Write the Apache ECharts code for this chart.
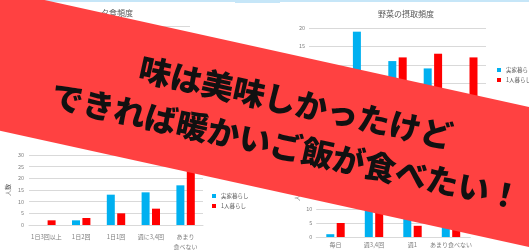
<!DOCTYPE html>
<html><head><meta charset="utf-8">
<script src="https://cdn.jsdelivr.net/npm/echarts@6/dist/echarts.min.js"></script>
<style>html,body{margin:0;padding:0;background:#fff;overflow:hidden}#c{width:529px;height:252px}</style>
</head><body><div id="c"></div>
<script>
// ---- data ----
const seriesNames = ['実家暮らし', '1人暮らし'];

const tlTitle = '夕食頻度';
const tlCategories = ['毎日', '週3,4回', '週1', 'あまり食べない'];
const tlHome = [15, 8, 4, 3];
const tlAlone = [6, 5, 10, 9];

const trTitle = '野菜の摂取頻度';
const trCategories = ['1日3回以上', '1日2回', '1日1回', '週に3,4回', 'あまり食べない'];
const trHome = [2, 19, 11, 9, 1];
const trAlone = [1, 5, 12, 13, 12];

const blCategories = ['1日3回以上', '1日2回', '1日1回', '週に3,4回', 'あまり\n食べない'];
const blHome = [0, 2, 13, 14, 17];
const blAlone = [2, 3, 5, 7, 24];

const brCategories = ['毎日', '週3,4回', '週1', 'あまり食べない'];
const brHome = [1, 15, 8, 6];
const brAlone = [5, 10, 4, 3];

const yAxisName = '人数';
const bannerLines = ['味は美味しかったけど', 'できれば暖かいご飯が食べたい！'];

// ---- chart ----
const BLUE = '#00b0f0', RED = '#ff0000', GRID = '#d9d9d9', TXT = '#7f7f7f';
const FONT = '"Noto Sans CJK JP", "Noto Sans", sans-serif';

function xAx(gi, cats, margin) {
  return {
    type: 'category', gridIndex: gi, data: cats,
    axisLine: { lineStyle: { color: GRID } }, axisTick: { show: false },
    axisLabel: { interval: 0, fontSize: 6, color: TXT, margin: margin, lineHeight: 10, fontFamily: FONT }
  };
}
function yAx(gi, max, gap, margin) {
  return {
    type: 'value', gridIndex: gi, min: 0, max: max, interval: 5,
    name: yAxisName, nameLocation: 'middle', nameRotate: 90, nameGap: gap,
    nameTextStyle: { fontSize: 6, color: '#595959', fontFamily: FONT },
    axisLine: { show: false }, axisTick: { show: false },
    axisLabel: { fontSize: 5.5, color: TXT, margin: margin, fontFamily: FONT },
    splitLine: { lineStyle: { color: GRID, width: 1 } }
  };
}
function bars(idx, home, alone) {
  return [
    { name: seriesNames[0], type: 'bar', xAxisIndex: idx, yAxisIndex: idx, data: home,
      barWidth: 8, barGap: '30%', itemStyle: { color: BLUE }, z: 2 },
    { name: seriesNames[1], type: 'bar', xAxisIndex: idx, yAxisIndex: idx, data: alone,
      barWidth: 8, barGap: '30%', itemStyle: { color: RED }, z: 2 }
  ];
}
function legend(left, top) {
  return {
    data: seriesNames, orient: 'vertical', left: left, top: top, padding: 0,
    itemWidth: 4, itemHeight: 4, itemGap: 4, icon: 'rect', selectedMode: false,
    textStyle: { fontSize: 5.5, color: '#595959', lineHeight: 6, fontFamily: FONT }
  };
}

const chart = echarts.init(document.getElementById('c'), null, { renderer: 'canvas' });
chart.setOption({
  animation: false,
  backgroundColor: '#ffffff',
  title: [
    { text: tlTitle, left: 101, top: 9, padding: 0,
      textStyle: { fontSize: 8, fontWeight: 'normal', color: '#595959', fontFamily: FONT } },
    { text: trTitle, left: 378, top: 10, padding: 0,
      textStyle: { fontSize: 8, fontWeight: 'normal', color: '#595959', fontFamily: FONT } }
  ],
  legend: [legend(212, 193), legend(497, 67), legend(497, 196), legend(200, 60)],
  grid: [
    { left: 27, right: 339, top: 26, bottom: 152 },
    { left: 309, right: 43, top: 28, bottom: 150.5 },
    { left: 29, right: 326, top: 155, bottom: 26 },
    { left: 316.25, right: 58.75, top: 153, bottom: 15 }
  ],
  xAxis: [xAx(0, tlCategories, 7), xAx(1, trCategories, 7), xAx(2, blCategories, 7), xAx(3, brCategories, 3)],
  yAxis: [yAx(0, 30, 18, 5), yAx(1, 20, 18, 4), yAx(2, 30, 18, 5), yAx(3, 30, 17, 4)],
  series: [].concat(bars(0, tlHome, tlAlone), bars(1, trHome, trAlone), bars(2, blHome, blAlone), bars(3, brHome, brAlone)),
  graphic: [
    { type: 'rect', shape: { x: 0, y: 0, width: 529, height: 2 }, style: { fill: '#c6e6f8' }, z: 90 },
    { type: 'rect', shape: { x: 235, y: 0, width: 45, height: 3 }, style: { fill: '#c6e6f8' }, z: 90 },
    { type: 'polygon', shape: { points: [[-2, -1], [40, -1], [531, 107.5], [531, 247.5], [-2, 130.2]] },
      style: { fill: '#ff4141' }, z: 100 },
    { type: 'text', x: 291, y: 124.5, rotation: -0.2166, z: 101,
      style: { text: bannerLines.join('\n'), fill: '#111111', fontSize: 32, fontWeight: 900,
        fontFamily: FONT, align: 'center', verticalAlign: 'middle', lineHeight: 45 } }
  ]
});
</script>
</body></html>
